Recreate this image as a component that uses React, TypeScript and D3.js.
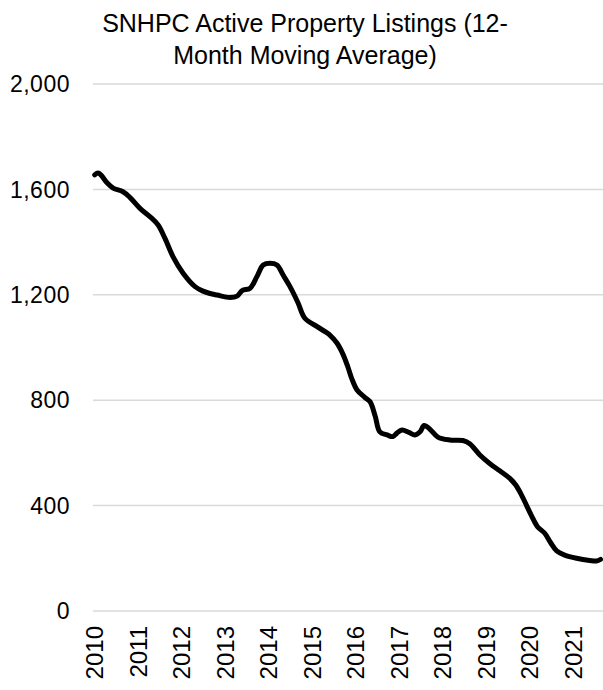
import React from "react";
import * as d3 from "d3";

const titleLines = ["SNHPC Active Property Listings (12-", "Month Moving Average)"];
const yTicks = [0, 400, 800, 1200, 1600, 2000];
const xYears = [2010, 2011, 2012, 2013, 2014, 2015, 2016, 2017, 2018, 2019, 2020, 2021];

// months since January 2010 and the 12-month moving average of active listings
const months = [
  0, 0.9, 1.7, 3.4, 5.1, 7.8, 9.7, 12.5, 15.3, 17.5,
  19.4, 21.6, 24.4, 27.7, 29.9, 31.8, 33.8, 37.3, 39.3, 40.7,
  42.9, 44.8, 46.5, 48.4, 50.3, 52.0, 53.9, 56.1, 58.0, 61.4,
  63.6, 64.9, 66.9, 68.5, 69.9, 71.0, 72.4, 74.6, 76.0, 77.4,
  78.7, 80.7, 82.3, 83.4, 84.8, 86.7, 88.4, 89.8, 90.9, 92.5,
  94.7, 98.0, 101.6, 103.5, 106.3, 109.0, 111.8, 114.5, 116.2, 117.8,
  119.2, 120.6, 122.2, 124.2, 125.8, 127.5, 129.7, 133.0, 136.6, 138.5,
  139.6,
];
const listings = [
  1655, 1662, 1655, 1625, 1605, 1591, 1570, 1528, 1496, 1465,
  1414, 1345, 1282, 1231, 1214, 1205, 1199, 1190, 1195, 1216,
  1225, 1270, 1313, 1320, 1313, 1275, 1231, 1170, 1111, 1079,
  1060, 1047, 1016, 975, 925, 880, 839, 810, 794, 740,
  680, 668, 662, 675, 687, 678, 668, 680, 704, 690,
  660, 649, 647, 635, 592, 560, 532, 504, 478, 440,
  400, 360, 320, 295, 260, 228, 212, 200, 192, 190,
  196,
];

export default function App() {
  const W = 603;
  const H = 690;
  const x = d3.scaleLinear().domain([0, 132]).range([94.7, 573]);
  const y = d3.scaleLinear().domain([0, 2000]).range([611, 84]);
  const fmt = d3.format(",");
  const data = months.map((m, i) => ({ m, v: listings[i] }));
  const line = d3
    .line<{ m: number; v: number }>()
    .x((d) => x(d.m))
    .y((d) => y(d.v))
    .curve(d3.curveCatmullRom.alpha(0.5));
  const font = "'Liberation Sans', Arial, sans-serif";

  return (
    <svg
      width={W}
      height={H}
      style={{ position: "absolute", left: 0, top: 0, background: "#fff" }}
    >
      {titleLines.map((t, i) => (
        <text
          key={t}
          x={305}
          y={32 + i * 32}
          textAnchor="middle"
          fontSize={25}
          fontFamily={font}
          fill="#000"
        >
          {t}
        </text>
      ))}
      {yTicks.map((v) => (
        <g key={v}>
          <line x1={93} x2={W} y1={y(v)} y2={y(v)} stroke="#d9d9d9" strokeWidth={1.5} />
          <text
            x={70}
            y={y(v)}
            dy="0.36em"
            textAnchor="end"
            fontSize={23}
            letterSpacing={0.5}
            fontFamily={font}
            fill="#000"
          >
            {fmt(v)}
          </text>
        </g>
      ))}
      {xYears.map((yr, i) => (
        <text
          key={yr}
          transform={`translate(${x(i * 12)},626) rotate(-90)`}
          dy="0.36em"
          textAnchor="end"
          fontSize={24}
          fontFamily={font}
          fill="#000"
        >
          {yr}
        </text>
      ))}
      <path
        d={line(data) || ""}
        fill="none"
        stroke="#000"
        strokeWidth={5}
        strokeLinejoin="round"
        strokeLinecap="round"
      />
    </svg>
  );
}
